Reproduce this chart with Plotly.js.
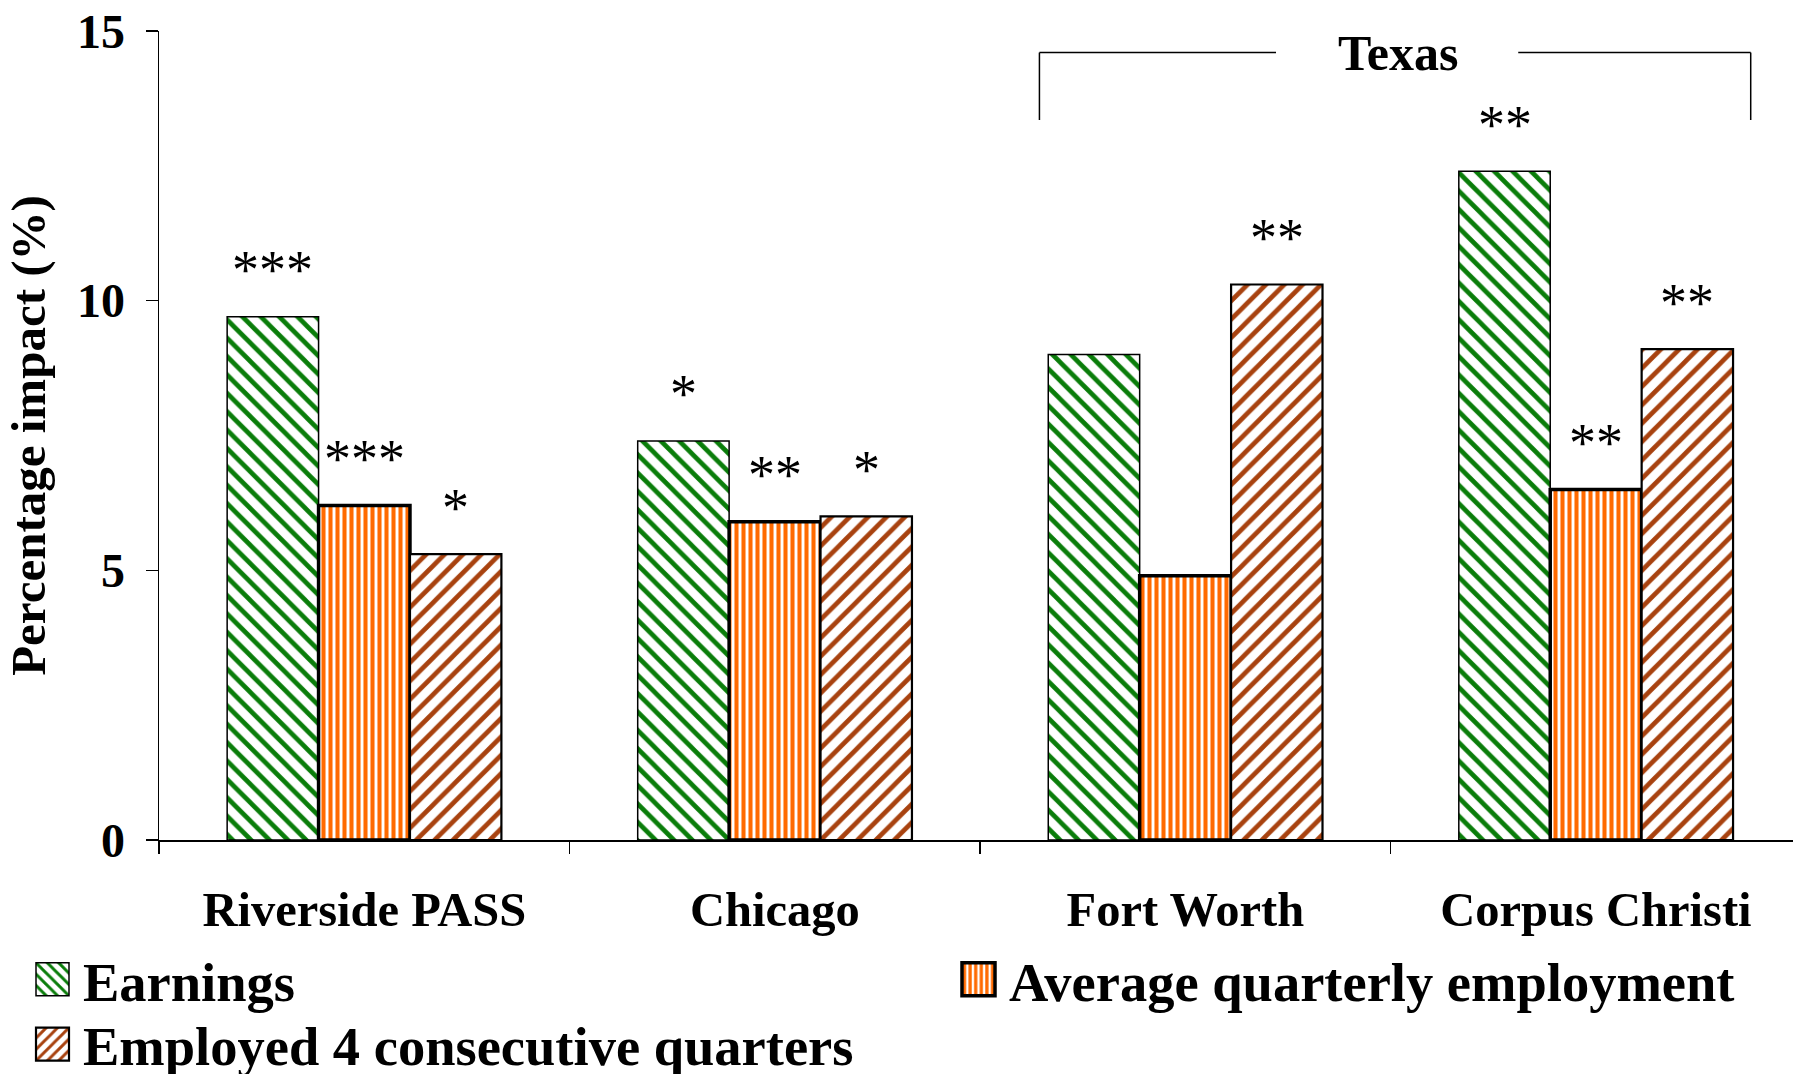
<!DOCTYPE html>
<html>
<head>
<meta charset="utf-8">
<script src="https://cdn.plot.ly/plotly-3.0.1.min.js"></script>
<style>
  html, body { margin: 0; padding: 0; background: #ffffff; }
  #chart { width: 1793px; height: 1074px; }
</style>
</head>
<body>
<div id="chart"></div>
<script>
// Program sites and estimated impacts (percent)
const sites = ['Riverside PASS', 'Chicago', 'Fort Worth', 'Corpus Christi'];
const earnings = [9.7, 7.4, 9.0, 12.4];
const avgQuarterlyEmployment = [6.2, 5.9, 4.9, 6.5];
const employed4Quarters = [5.3, 6.0, 10.3, 9.1];

// Significance markers shown above each bar
const earningsSig = ['***', '*', '', '**'];
const avgQuarterlyEmploymentSig = ['***', '**', '', '**'];
const employed4QuartersSig = ['*', '*', '**', '**'];

const seriesNames = ['Earnings', 'Average quarterly employment', 'Employed 4 consecutive quarters'];
const yTicks = [0, 5, 10, 15];
const regionLabel = 'Texas';
const regionSites = ['Fort Worth', 'Corpus Christi'];

const SERIF = '"Liberation Serif", "Times New Roman", Times, serif';
const BAR_GAP = 0.332;
const barWidth = (1 - BAR_GAP) / 3;

const styles = [
  { fg: '#0a7d0a', shape: '\\', size: 13, solidity: 0.36, line: 1.5, legend: 'legend' },
  { fg: '#ff6a00', shape: '|', size: 7, solidity: 0.58, line: 3.5, legend: 'legend2' },
  { fg: '#a8420f', shape: '/', size: 13, solidity: 0.36, line: 2.2, legend: 'legend3' }
];
const seriesValues = [earnings, avgQuarterlyEmployment, employed4Quarters];
const seriesSig = [earningsSig, avgQuarterlyEmploymentSig, employed4QuartersSig];

const traces = seriesValues.map((vals, k) => ({
  type: 'bar',
  name: seriesNames[k],
  x: sites,
  y: vals,
  legend: styles[k].legend,
  marker: {
    color: '#ffffff',
    line: { color: '#000000', width: styles[k].line },
    pattern: {
      shape: styles[k].shape,
      fgcolor: styles[k].fg,
      bgcolor: '#ffffff',
      fgopacity: 1,
      size: styles[k].size,
      solidity: styles[k].solidity,
      fillmode: 'replace'
    }
  },
  hoverinfo: 'skip'
}));

// Significance stars, centred over each bar
const annotations = [];
seriesValues.forEach((vals, k) => {
  vals.forEach((v, i) => {
    const s = seriesSig[k][i];
    if (!s) return;
    annotations.push({
      xref: 'x', yref: 'y',
      x: i + (k - 1) * barWidth,
      y: v,
      text: s,
      showarrow: false,
      xanchor: 'center', yanchor: 'bottom',
      yshift: 14.5,
      font: { family: SERIF, size: 54, color: '#000000' }
    });
  });
});

// Bracket grouping the Texas sites
const first = sites.indexOf(regionSites[0]);
const last = sites.indexOf(regionSites[regionSites.length - 1]);
const bxL = first - 0.3555;
const bxR = last + 0.377;
const bMid = (bxL + bxR) / 2;
const bTop = 14.6;
const bBot = 13.35;
const lineStyle = { color: '#000000', width: 1.5 };
const shapes = [
  { type: 'line', xref: 'x', yref: 'y', x0: bxL, x1: bxL, y0: bBot, y1: bTop, line: lineStyle },
  { type: 'line', xref: 'x', yref: 'y', x0: bxL, x1: bMid - 0.29, y0: bTop, y1: bTop, line: lineStyle },
  { type: 'line', xref: 'x', yref: 'y', x0: bMid + 0.30, x1: bxR, y0: bTop, y1: bTop, line: lineStyle },
  { type: 'line', xref: 'x', yref: 'y', x0: bxR, x1: bxR, y0: bBot, y1: bTop, line: lineStyle }
];
annotations.push({
  xref: 'x', yref: 'y',
  x: bMid + 0.008, y: bTop,
  text: regionLabel,
  showarrow: false,
  xanchor: 'center', yanchor: 'middle',
  font: { family: SERIF, size: 50, color: '#000000', weight: 'bold' }
});

const legendBase = {
  orientation: 'v',
  xanchor: 'left', yanchor: 'middle',
  bgcolor: 'rgba(0,0,0,0)',
  borderwidth: 0,
  itemwidth: 51,
  itemclick: false, itemdoubleclick: false,
  font: { family: SERIF, size: 54.5, color: '#000000', weight: 'bold' }
};

const layout = {
  width: 1793,
  height: 1074,
  paper_bgcolor: '#ffffff',
  plot_bgcolor: '#ffffff',
  margin: { l: 159, r: 0, t: 31, b: 233.5, pad: 0, autoexpand: false },
  barmode: 'group',
  bargap: BAR_GAP,
  bargroupgap: 0,
  showlegend: true,
  legend: Object.assign({}, legendBase, { x: (22 - 159) / 1634, y: -0.1723 }),
  legend2: Object.assign({}, legendBase, { x: (948 - 159) / 1634, y: -0.1723 }),
  legend3: Object.assign({}, legendBase, { x: (22 - 159) / 1634, y: -0.2525 }),
  xaxis: {
    type: 'category',
    categoryorder: 'array',
    categoryarray: sites,
    range: [-0.5, 3.48],
    tickson: 'boundaries',
    ticks: 'outside',
    ticklen: 12,
    tickwidth: 1.5,
    tickcolor: '#000000',
    showline: true,
    linecolor: '#000000',
    linewidth: 1.5,
    showgrid: false,
    zeroline: false,
    ticklabelstandoff: 26,
    tickfont: { family: SERIF, size: 48.5, color: '#000000', weight: 'bold' },
    fixedrange: true
  },
  yaxis: {
    range: [0, 15],
    tickvals: yTicks,
    ticktext: yTicks.map(String),
    ticks: 'outside',
    ticklen: 12,
    tickwidth: 1.5,
    tickcolor: '#000000',
    showline: true,
    linecolor: '#000000',
    linewidth: 1.5,
    showgrid: false,
    zeroline: false,
    ticklabelstandoff: 11,
    tickfont: { family: SERIF, size: 48, color: '#000000', weight: 'bold' },
    title: {
      text: 'Percentage impact (%)',
      standoff: 16,
      font: { family: SERIF, size: 49, color: '#000000', weight: 'bold' }
    },
    fixedrange: true
  },
  annotations: annotations,
  shapes: shapes
};

// Larger legend swatches than the library default
function enlargeSwatches(gd) {
  gd.querySelectorAll('.legendpoints path').forEach(p => {
    p.setAttribute('d', 'M16.5,16.5H-16.5V-16.5H16.5Z');
  });
}

Plotly.newPlot('chart', traces, layout, { displayModeBar: false, staticPlot: true }).then(gd => {
  enlargeSwatches(gd);
  gd.on('plotly_afterplot', () => enlargeSwatches(gd));
  setTimeout(() => enlargeSwatches(gd), 50);
});
</script>
</body>
</html>
